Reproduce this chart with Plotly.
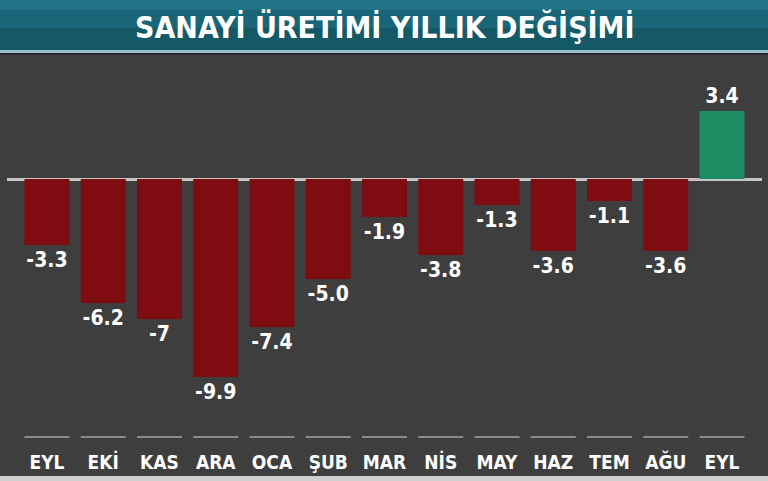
import plotly.graph_objects as go

categories = ["EYL", "EKİ", "KAS", "ARA", "OCA", "ŞUB", "MAR", "NİS", "MAY", "HAZ", "TEM", "AĞU", "EYL"]
values = [-3.3, -6.2, -7.0, -9.9, -7.4, -5.0, -1.9, -3.8, -1.3, -3.6, -1.1, -3.6, 3.4]
value_labels = ["-3.3", "-6.2", "-7", "-9.9", "-7.4", "-5.0", "-1.9", "-3.8", "-1.3", "-3.6", "-1.1", "-3.6", "3.4"]
title_text = "SANAYİ ÜRETİMİ YILLIK DEĞİŞİMİ"

FONT = "DejaVu Sans Condensed, DejaVu Sans, sans-serif"
RED = "#7e0c10"
GREEN = "#1c8d63"
colors = [GREEN if v > 0 else RED for v in values]
xs = list(range(len(categories)))

H_PLOT = 385.0
def py(px):
    return (440 - px) / H_PLOT

fig = go.Figure()
fig.add_trace(go.Bar(
    x=xs, y=values, width=0.8,
    marker=dict(color=colors, line=dict(width=0)),
    text=value_labels, textposition="outside", cliponaxis=False,
    textfont=dict(family=FONT, size=21, color="white", weight="bold"),
    hoverinfo="skip",
))

shapes = []
shapes.append(dict(type="rect", xref="paper", yref="paper", x0=-0.05, x1=1.05,
                   y0=py(50), y1=py(-10), fillcolor="#155866", line=dict(width=0), layer="below"))
shapes.append(dict(type="rect", xref="paper", yref="paper", x0=-0.05, x1=1.05,
                   y0=py(28), y1=py(-10), fillcolor="#1a6678", line=dict(width=0), layer="below"))
shapes.append(dict(type="rect", xref="paper", yref="paper", x0=-0.05, x1=1.05,
                   y0=py(10), y1=py(-10), fillcolor="#217487", line=dict(width=0), layer="below"))
shapes.append(dict(type="rect", xref="paper", yref="paper", x0=-0.05, x1=1.05,
                   y0=py(53), y1=py(50), fillcolor="#9bbccb", line=dict(width=0), layer="below"))
shapes.append(dict(type="rect", xref="paper", yref="paper", x0=-0.05, x1=1.05,
                   y0=py(55), y1=py(53), fillcolor="#2a2a2a", line=dict(width=0), layer="below"))
shapes.append(dict(type="rect", xref="paper", yref="paper", x0=-0.05, x1=1.05,
                   y0=py(490), y1=py(476), fillcolor="#cfcfcf", line=dict(width=0), layer="below"))
for i in xs:
    shapes.append(dict(type="line", xref="x", yref="paper", x0=i - 0.4, x1=i + 0.4,
                       y0=py(437), y1=py(437), line=dict(color="#8a8a8a", width=2)))

fig.update_layout(
    width=768, height=481,
    margin=dict(l=7, r=6, t=55, b=41, autoexpand=False),
    paper_bgcolor="#3f3e3e", plot_bgcolor="rgba(0,0,0,0)",
    showlegend=False,
    shapes=shapes,
    xaxis=dict(range=[-0.711, 12.711], tickmode="array", tickvals=xs, ticktext=categories,
               showgrid=False, zeroline=False, showline=False, ticks="", automargin=False,
               tickfont=dict(family=FONT, size=19, color="white", weight="bold"),
               ticklabelstandoff=9),
    yaxis=dict(range=[-13.05, 6.2], showgrid=False, showticklabels=False, automargin=False,
               zeroline=True, zerolinecolor="#c4c4c4", zerolinewidth=3, showline=False),
    annotations=[dict(text=title_text, xref="paper", yref="paper",
                      x=0.5, y=py(27), yanchor="middle", showarrow=False,
                      font=dict(family=FONT, size=30, color="white", weight="bold"))],
)
fig.write_html("out.html", config={"displayModeBar": False},
               post_script="document.body.style.margin='0';document.body.style.background='#3f3e3e';")
